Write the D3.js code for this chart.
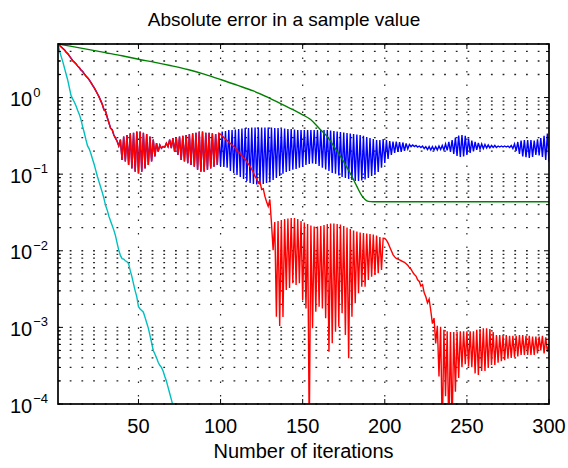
<!DOCTYPE html>
<html>
<head>
<meta charset="utf-8">
<script src="https://cdn.jsdelivr.net/npm/d3@7"></script>
<style>
  html, body { margin: 0; padding: 0; background: #fff; }
  svg { display: block; }
  text { font-family: "Liberation Sans", Arial, Helvetica, sans-serif; fill: #000; }
</style>
</head>
<body>
<div id="chart"></div>
<script>
// ---------------- data ----------------
const titleText = "Absolute error in a sample value";
const xLabelText = "Number of iterations";
const xTickValues = [50, 100, 150, 200, 250, 300];
const yTickExponents = [0, -1, -2, -3, -4];

// cyan series, iterations 1..71
const cyanValues = [
  5.0, 4.0, 3.4, 2.9, 2.4, 2.0, 1.66, 1.32, 1.05, 0.955,
  0.87, 0.776, 0.676, 0.603, 0.513, 0.417, 0.347, 0.282, 0.234, 0.214,
  0.186, 0.158, 0.135, 0.112, 0.0933, 0.0794, 0.0676, 0.0575, 0.0479, 0.0389,
  0.0339, 0.0282, 0.0245, 0.0214, 0.0186, 0.0158, 0.0126, 0.0102, 0.0087, 0.0079,
  0.0078, 0.0074, 0.0072, 0.0068, 0.0055, 0.0046, 0.0037, 0.0030, 0.0025, 0.00186,
  0.00174, 0.00166, 0.00158, 0.00135, 0.00115, 0.00098, 0.00079, 0.00063, 0.00050, 0.00045,
  0.00040, 0.00035, 0.00032, 0.00030, 0.00027, 0.00023, 0.00020, 0.000166, 0.000138, 0.000115,
  0.000095
];

// green series (sampled iterations)
const greenIters = [1, 10, 20, 30, 40, 50, 60, 70, 80, 90, 100, 110, 120, 130, 140, 150, 155, 160, 165, 170, 175, 180, 183, 186, 188, 190, 193, 200, 250, 300];
const greenValues = [5.01, 4.62, 4.22, 3.85, 3.51, 3.16, 2.88, 2.60, 2.32, 2.02, 1.72, 1.45, 1.22, 0.977, 0.767, 0.596, 0.513, 0.398, 0.309, 0.214, 0.145, 0.0933, 0.0692, 0.0525, 0.0468, 0.0442, 0.0437, 0.0437, 0.0437, 0.0437];

// red and blue coincide for iterations 1..99
const sharedHead = [
  5.01, 4.79, 4.57, 4.37, 4.17, 3.89, 3.72, 3.47, 3.24, 3.02,
  2.88, 2.75, 2.57, 2.45, 2.29, 2.19, 2.04, 1.91, 1.82, 1.70,
  1.58, 1.45, 1.35, 1.23, 1.12, 1.02, 0.912, 0.813, 0.692, 0.661,
  0.550, 0.468, 0.398, 0.380, 0.324, 0.295, 0.269, 0.234, 0.282, 0.153,
  0.310, 0.146, 0.325, 0.132, 0.342, 0.119, 0.348, 0.108, 0.359, 0.102,
  0.359, 0.108, 0.348, 0.119, 0.335, 0.132, 0.310, 0.146, 0.282, 0.171,
  0.254, 0.197, 0.240, 0.218, 0.229, 0.225, 0.254, 0.229, 0.282, 0.218,
  0.295, 0.197, 0.303, 0.178, 0.310, 0.153, 0.316, 0.146, 0.325, 0.139,
  0.335, 0.132, 0.342, 0.125, 0.348, 0.114, 0.359, 0.108, 0.359, 0.108,
  0.348, 0.114, 0.348, 0.119, 0.342, 0.125, 0.335, 0.132, 0.342
];

// red, iterations 100..300
const redTail = [
  0.331, 0.316, 0.302, 0.288, 0.275, 0.263, 0.251, 0.240, 0.229, 0.219,
  0.204, 0.195, 0.186, 0.174, 0.162, 0.155, 0.145, 0.135, 0.126, 0.115,
  0.105, 0.0933, 0.0871, 0.0759, 0.0794, 0.0631, 0.0646, 0.0513, 0.0437, 0.0380,
  0.0468, 0.0229,
  0.0102, 0.0238, 0.00138, 0.0245, 0.00104, 0.0252, 0.00137, 0.0260,
  0.00308, 0.0264, 0.00327, 0.0268, 0.00377, 0.0268, 0.00358, 0.0260, 0.00377, 0.0245,
  0.00228, 0.0234, 0.00177, 0.0224, 0.00004, 0.0214, 0.000973, 0.0207, 0.00160, 0.0207,
  0.00186, 0.0211, 0.00177, 0.0217, 0.00132, 0.0224, 0.000482, 0.0227, 0.000619, 0.0227,
  0.000879, 0.0224, 0.00102, 0.0220, 0.00153, 0.0211, 0.000796, 0.0201, 0.000396, 0.0193,
  0.00138, 0.0184, 0.00207, 0.0179, 0.00279, 0.0173, 0.00340, 0.0171, 0.00340, 0.0168,
  0.00416, 0.0166, 0.00459, 0.0163, 0.00483, 0.0158, 0.00508, 0.0151, 0.00561, 0.0146,
  0.0145, 0.0138, 0.0126, 0.0112, 0.0100, 0.00891, 0.00832, 0.00794, 0.00776, 0.00759,
  0.00741, 0.00724, 0.00708, 0.00676, 0.00646, 0.00603, 0.00575, 0.00525, 0.00490, 0.00468,
  0.00417, 0.00398, 0.00347, 0.00363, 0.00282, 0.00251, 0.00209, 0.00234, 0.00166, 0.00112,
  0.00132, 0.000617, 0.00105,
  0.000229, 0.00102, 0.00004, 0.000933, 0.000126, 0.000891, 0.00004,
  0.000871, 0.00005, 0.000871, 0.000145, 0.000871, 0.000219, 0.000891, 0.000302, 0.000891, 0.000331,
  0.000891, 0.000309, 0.000891, 0.000302, 0.000891, 0.000251, 0.000933, 0.000240, 0.000955, 0.000269,
  0.000977, 0.000269, 0.000977, 0.000295, 0.000955, 0.000324, 0.000871, 0.000324, 0.000794, 0.000347,
  0.000794, 0.000363, 0.000794, 0.000372, 0.000794, 0.000389, 0.000776, 0.000398, 0.000776, 0.000407,
  0.000776, 0.000417, 0.000794, 0.000437, 0.000794, 0.000437, 0.000776, 0.000437, 0.000776, 0.000437,
  0.000759, 0.000437, 0.000759, 0.000457, 0.000759, 0.000501, 0.000776, 0.000457, 0.000741, 0.000479,
  0.000603
];

// blue, iterations 100..300
const blueTail = [
  0.128, 0.361, 0.124, 0.366, 0.121, 0.378, 0.110, 0.378, 0.104, 0.383,
  0.0977, 0.389, 0.0918, 0.395, 0.0865, 0.401, 0.0815, 0.401, 0.0767, 0.407,
  0.0745, 0.407, 0.0734, 0.407, 0.0734, 0.407, 0.0745, 0.407, 0.0767, 0.407,
  0.0791, 0.407, 0.0839, 0.401, 0.0891, 0.401, 0.0948, 0.395, 0.101, 0.395,
  0.107, 0.389, 0.110, 0.389, 0.114, 0.383, 0.117, 0.378, 0.121, 0.378,
  0.124, 0.378, 0.132, 0.378, 0.136, 0.378, 0.138, 0.378, 0.136, 0.378,
  0.128, 0.378, 0.121, 0.378, 0.115, 0.378, 0.110, 0.372, 0.104, 0.366,
  0.101, 0.361, 0.0962, 0.356, 0.0918, 0.350, 0.0891, 0.345, 0.0865, 0.340,
  0.0839, 0.335, 0.0815, 0.330, 0.0815, 0.325, 0.0827, 0.316, 0.0852, 0.306,
  0.0891, 0.297, 0.0948, 0.288, 0.0995, 0.279, 0.107, 0.279, 0.121, 0.288,
  0.140, 0.279, 0.158, 0.271, 0.178, 0.267, 0.189, 0.267, 0.195, 0.263,
  0.195, 0.259, 0.201, 0.252, 0.213, 0.244, 0.229, 0.240, 0.229, 0.237,
  0.226, 0.233, 0.223, 0.233, 0.216, 0.229, 0.210, 0.229, 0.207, 0.229,
  0.207, 0.229, 0.207, 0.233, 0.210, 0.237, 0.207, 0.248, 0.204, 0.263,
  0.195, 0.279, 0.184, 0.301, 0.173, 0.320, 0.168, 0.325, 0.170, 0.316,
  0.178, 0.292, 0.189, 0.275, 0.198, 0.263, 0.207, 0.255, 0.213, 0.248,
  0.216, 0.244, 0.220, 0.240, 0.220, 0.237, 0.223, 0.237, 0.223, 0.233,
  0.226, 0.233, 0.226, 0.233, 0.226, 0.233, 0.223, 0.237, 0.216, 0.248,
  0.201, 0.263, 0.184, 0.275, 0.170, 0.279, 0.166, 0.279, 0.163, 0.279,
  0.168, 0.275, 0.178, 0.284, 0.176, 0.297, 0.168, 0.316, 0.153, 0.340,
  0.145
];

// ---------------- chart ----------------
const W = 568, H = 468;
const plot = { left: 58, right: 549, top: 44, bottom: 404 };

const svg = d3.select("#chart").append("svg").attr("width", W).attr("height", H);

const x = d3.scaleLinear().domain([1, 300]).range([plot.left, plot.right]);
const y = d3.scaleLog().domain([1e-4, 5]).range([plot.bottom, plot.top]);

const blueValues = sharedHead.concat(blueTail);
const redValues = sharedHead.concat(redTail);
const toPts = vals => vals.map((v, i) => [i + 1, v]);

// grid lines
const gridYs = [];
for (let e = -4; e <= 0; e++) {
  for (let m = 1; m <= 9; m++) {
    const v = m * Math.pow(10, e);
    if (v >= 1e-4 && v <= 5) gridYs.push(v);
  }
}
const grid = svg.append("g");
grid.selectAll("line.h").data(gridYs).join("line")
  .attr("x1", plot.left).attr("x2", plot.right)
  .attr("y1", d => y(d)).attr("y2", d => y(d))
  .attr("stroke", "#222").attr("stroke-width", 1.3)
  .attr("stroke-dasharray", "1.8,9.9");
grid.selectAll("line.v").data(xTickValues.filter(d => d < 300)).join("line")
  .attr("x1", d => x(d)).attr("x2", d => x(d))
  .attr("y1", plot.top).attr("y2", plot.bottom)
  .attr("stroke", "#222").attr("stroke-width", 1.2)
  .attr("stroke-dasharray", "1.5,12");

// clip
svg.append("clipPath").attr("id", "clip").append("rect")
  .attr("x", plot.left).attr("y", plot.top)
  .attr("width", plot.right - plot.left).attr("height", plot.bottom - plot.top);

const line = d3.line().x(d => x(d[0])).y(d => y(d[1]));
const smooth = d3.line().x(d => x(d[0])).y(d => y(d[1])).curve(d3.curveMonotoneX);
const lines = svg.append("g").attr("clip-path", "url(#clip)");

lines.append("path").attr("d", line(toPts(blueValues)))
  .attr("fill", "none").attr("stroke", "#0000ff").attr("stroke-width", 1.4);
lines.append("path").attr("d", smooth(greenIters.map((it, i) => [it, greenValues[i]])))
  .attr("fill", "none").attr("stroke", "#008000").attr("stroke-width", 1.4);
lines.append("path").attr("d", line(toPts(redValues)))
  .attr("fill", "none").attr("stroke", "#ff0000").attr("stroke-width", 1.4);
lines.append("path").attr("d", line(toPts(cyanValues)))
  .attr("fill", "none").attr("stroke", "#00bfbf").attr("stroke-width", 1.4);

// ticks
const ax = svg.append("g").attr("stroke", "#000");
const majorLen = 5, minorLen = 3;
xTickValues.forEach(t => {
  ax.append("line").attr("x1", x(t)).attr("x2", x(t)).attr("y1", plot.bottom).attr("y2", plot.bottom - majorLen).attr("stroke-width", 1);
  ax.append("line").attr("x1", x(t)).attr("x2", x(t)).attr("y1", plot.top).attr("y2", plot.top + majorLen).attr("stroke-width", 1);
});
gridYs.forEach(v => {
  const major = Math.abs(Math.log10(v) - Math.round(Math.log10(v))) < 1e-9;
  const len = major ? majorLen : minorLen;
  ax.append("line").attr("x1", plot.left).attr("x2", plot.left + len).attr("y1", y(v)).attr("y2", y(v)).attr("stroke-width", 1);
  ax.append("line").attr("x1", plot.right).attr("x2", plot.right - len).attr("y1", y(v)).attr("y2", y(v)).attr("stroke-width", 1);
});

// box
svg.append("rect").attr("x", plot.left).attr("y", plot.top)
  .attr("width", plot.right - plot.left).attr("height", plot.bottom - plot.top)
  .attr("fill", "none").attr("stroke", "#000").attr("stroke-width", 1.7);

// x tick labels
svg.append("g").selectAll("text").data(xTickValues).join("text")
  .attr("x", d => x(d)).attr("y", 433)
  .attr("text-anchor", "middle").attr("font-size", 20)
  .text(d => d);

// y tick labels
const yl = svg.append("g");
yTickExponents.forEach(e => {
  const ty = y(Math.pow(10, e));
  const t = yl.append("text").attr("x", 10).attr("y", ty + 8.5).attr("font-size", 20);
  t.append("tspan").text("10");
  t.append("tspan").attr("font-size", 13).attr("dx", 1).attr("dy", -9.5)
    .text(e === 0 ? "0" : "\u2212" + Math.abs(e));
});

// title and label
svg.append("text").attr("x", W / 2).attr("y", 26)
  .attr("text-anchor", "middle").attr("font-size", 19).text(titleText);
svg.append("text").attr("x", (plot.left + plot.right) / 2).attr("y", 458)
  .attr("text-anchor", "middle").attr("font-size", 20).text(xLabelText);
</script>
</body>
</html>
